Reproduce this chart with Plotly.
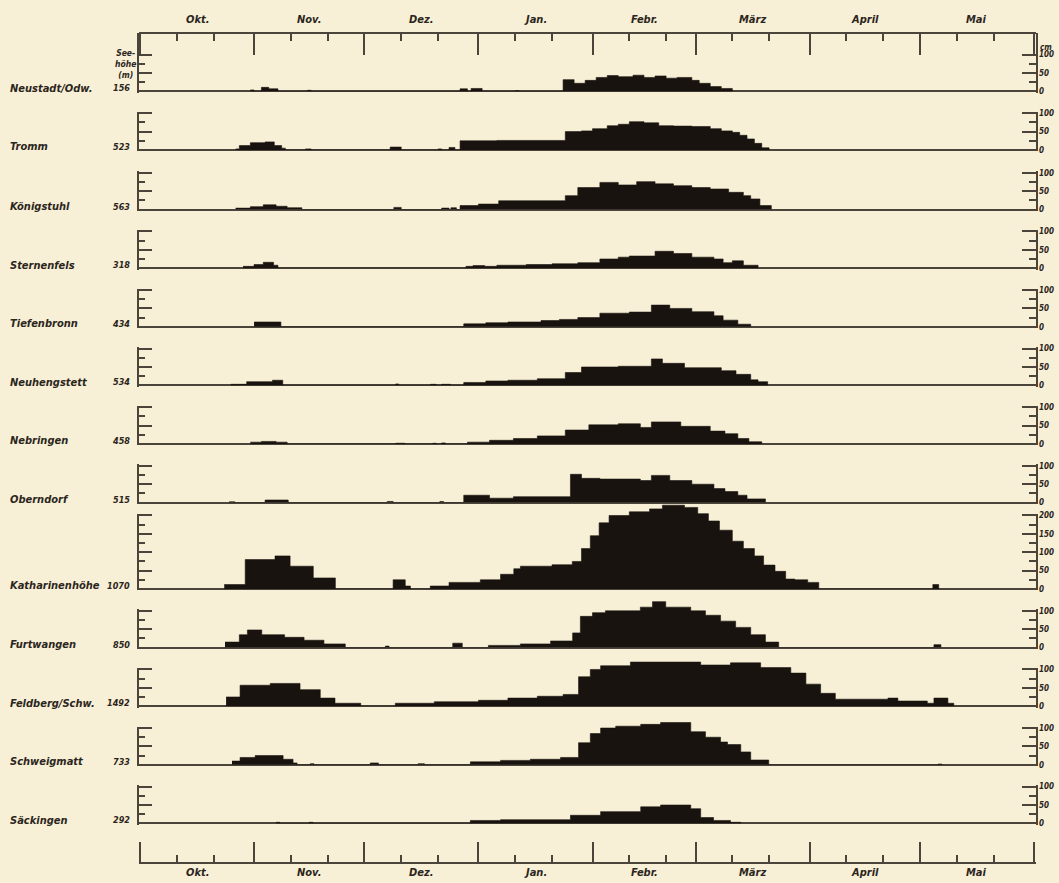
import plotly.graph_objects as go

# ---------------- data ----------------
month_names = ["Okt.", "Nov.", "Dez.", "Jan.", "Febr.", "März", "April", "Mai"]
month_days = [31, 30, 31, 31, 28, 31, 30, 31]

station_names = ["Neustadt/Odw.", "Tromm", "Königstuhl", "Sternenfels", "Tiefenbronn",
                 "Neuhengstett", "Nebringen", "Oberndorf", "Katharinenhöhe", "Furtwangen",
                 "Feldberg/Schw.", "Schweigmatt", "Säckingen"]
station_alt = [156, 523, 563, 318, 434, 534, 458, 515, 1070, 850, 1492, 733, 292]
scale_max_cm = [100, 100, 100, 100, 100, 100, 100, 100, 200, 100, 100, 100, 100]

# snow depth (cm), step values: depth holds from day[i] until day[i+1] (day 0 = 1 Oct)
neustadt_days = [30, 31, 33, 35, 37.5, 45.5, 46.5, 87, 89, 90, 93, 102, 103, 115, 118, 121, 124,
                 127, 130, 134, 137, 140, 143, 146, 150, 152, 155, 158, 161]
neustadt_cm = [4, 0, 11, 7, 0, 3, 0, 7, 0, 8, 0, 2, 0, 32, 22, 30, 38, 43, 40, 44, 38, 42, 36,
               38, 30, 22, 13, 8, 0]

tromm_days = [26, 27, 30, 34, 36.5, 38.5, 39.5, 45, 46.5, 68, 71, 81, 82, 84, 85.6, 87, 97,
              115.6, 120, 123, 127, 130, 133, 137, 141, 145, 150, 155, 158, 161, 163, 165, 167,
              169, 171]
tromm_cm = [3, 12, 20, 22, 12, 5, 0, 3, 0, 8, 0, 3, 0, 7, 0, 25, 26, 50, 52, 58, 66, 70, 77, 74,
            66, 65, 64, 58, 52, 48, 40, 30, 18, 6, 0]

koenigstuhl_days = [26, 30, 33.5, 37, 40, 44, 69, 71, 82, 84, 84.5, 86, 87, 92, 97.5, 115.6,
                    119, 125, 130, 135, 140, 145, 150, 155, 160, 164, 166, 168.5, 171.6]
koenigstuhl_cm = [4, 8, 13, 9, 5, 0, 6, 0, 4, 0, 5, 0, 11, 15, 24, 38, 60, 74, 67, 76, 70, 65,
                  60, 56, 47, 38, 29, 11, 0]

sternenfels_days = [28, 31, 33.5, 36.3, 37.5, 88.6, 90.5, 93.7, 97, 105, 112, 119, 125, 130,
                    133, 140, 145, 150, 156, 158.5, 161, 164, 168]
sternenfels_cm = [5, 10, 16, 8, 0, 5, 7, 5, 8, 10, 12, 15, 25, 30, 33, 46, 40, 30, 25, 15, 20, 8, 0]

tiefenbronn_days = [31, 38.3, 88, 94, 100, 109, 114, 119, 125, 133, 139, 144, 150, 156, 158.5,
                    162.5, 166]
tiefenbronn_cm = [13, 0, 8, 11, 13, 17, 20, 25, 37, 40, 59, 50, 41, 30, 18, 7, 0]

neuhengstett_days = [24.7, 29, 36, 38.8, 69.5, 70.3, 79, 80.5, 82, 84.4, 88, 94, 100, 108,
                     115.6, 120, 130, 139, 142, 148, 158, 162, 166, 168, 170.6]
neuhengstett_cm = [3, 10, 14, 0, 4, 0, 3, 0, 3, 0, 8, 12, 14, 18, 35, 50, 52, 72, 60, 48, 40,
                   30, 15, 10, 0]

nebringen_days = [30, 33, 37, 40, 69.5, 72, 79.6, 80.5, 82, 83, 89, 95, 101.5, 108, 115.6, 122,
                  130, 136, 139, 147, 155, 159, 162.5, 165.5, 169]
nebringen_cm = [5, 7, 5, 0, 2, 0, 2, 0, 3, 0, 5, 10, 15, 22, 38, 52, 55, 45, 60, 48, 35, 28, 15,
                6, 0]

oberndorf_days = [24.2, 25.8, 34, 40.3, 67.2, 68.8, 81.5, 82.5, 88, 95, 101.5, 117, 120, 125,
                  136, 139, 144, 150, 156, 159, 162.5, 165, 170]
oberndorf_cm = [2, 0, 7, 0, 3, 0, 3, 0, 20, 12, 16, 77, 66, 64, 60, 74, 60, 50, 38, 30, 20, 10, 0]

katharinenhoehe_days = [22.9, 28.6, 36.7, 40.8, 47.1, 53.1, 68.8, 72.1, 73.5, 78.9, 84, 92.5,
                        98, 101.6, 103.4, 112, 117.5, 120, 122.4, 124.8, 127.5, 133, 138.5,
                        142, 148, 151.6, 154.5, 157.5, 161, 164, 167, 169.5, 172.6, 175.5,
                        178, 181.5, 184.5, 215.5, 217.1]
katharinenhoehe_cm = [12, 80, 90, 62, 30, 0, 25, 8, 0, 8, 18, 25, 40, 55, 62, 66, 75, 110, 145,
                      180, 200, 210, 218, 228, 222, 205, 185, 160, 130, 110, 90, 65, 48, 27,
                      25, 18, 0, 12, 0]

furtwangen_days = [23.1, 27, 29.2, 33.1, 39.3, 44.6, 50, 55.8, 66.7, 67.7, 85, 87.6, 94.7,
                   103.4, 111.6, 117.6, 119.7, 123, 126.5, 136, 139.3, 142.9, 149.7, 153.7,
                   157.8, 161.9, 166, 170, 173.6, 215.8, 217.7]
furtwangen_cm = [15, 35, 48, 35, 28, 20, 10, 0, 4, 0, 12, 0, 6, 10, 18, 40, 85, 95, 100, 110,
                 125, 110, 100, 88, 72, 55, 35, 15, 0, 8, 0]

feldberg_days = [23.4, 27.2, 35.4, 43.5, 49, 53, 60, 69.4, 80, 92, 100, 108, 115, 119.2, 122.4,
                 125.2, 133.3, 152.4, 160.5, 168.7, 176.9, 181, 185, 189, 203.3, 206, 214,
                 215.8, 219.6, 221.2]
feldberg_cm = [25, 57, 62, 45, 22, 8, 0, 8, 12, 16, 22, 27, 32, 80, 100, 110, 120, 112, 118,
               105, 90, 60, 35, 19, 22, 14, 8, 22, 8, 0]

schweigmatt_days = [25, 27.2, 31.3, 38.9, 41.6, 42.7, 46.3, 47.3, 62.6, 64.8, 75.6, 77.3, 89.8,
                    98, 106.1, 114.3, 119.2, 122.4, 125.2, 129.3, 136.1, 141.5, 149.7, 153.7,
                    157.8, 159.7, 163.3, 166, 170.9, 216.9, 218]
schweigmatt_cm = [10, 20, 25, 15, 5, 0, 3, 0, 5, 0, 3, 0, 8, 12, 15, 20, 60, 85, 100, 105, 110,
                  115, 90, 75, 62, 55, 35, 13, 0, 2, 0]

saeckingen_days = [37, 38, 46, 47, 89.8, 98, 117, 125.2, 136.1, 141.5, 149.7, 152.4, 155.9,
                   160.5, 163.3]
saeckingen_cm = [3, 0, 3, 0, 8, 10, 22, 32, 45, 50, 40, 16, 8, 3, 0]

station_days = [neustadt_days, tromm_days, koenigstuhl_days, sternenfels_days, tiefenbronn_days,
                neuhengstett_days, nebringen_days, oberndorf_days, katharinenhoehe_days,
                furtwangen_days, feldberg_days, schweigmatt_days, saeckingen_days]
station_cm = [neustadt_cm, tromm_cm, koenigstuhl_cm, sternenfels_cm, tiefenbronn_cm,
              neuhengstett_cm, nebringen_cm, oberndorf_cm, katharinenhoehe_cm, furtwangen_cm,
              feldberg_cm, schweigmatt_cm, saeckingen_cm]

# ---------------- layout constants ----------------
W, H = 1059, 883
BG = "#f8f0d6"
INK = "#18130f"
LINE = "#4a443b"
TXT = "#2b2520"
LW = 1.6
X0_PX, X1_PX = 140, 1034
TOP_AXIS_PX, BOTTOM_AXIS_PX = 30, 865
baselines_px = [89, 148, 208, 267, 326, 385, 444, 503, 590, 649, 708, 767, 826]
PX_PER_CM = 0.37
PAD_PX = 1.5   # keeps end ticks from being clipped at the axis ends
FONT = "Liberation Sans Narrow, DejaVu Sans Condensed, Roboto Condensed, Arial Narrow, sans-serif"

def py(px):
    return 1 - px / H

bounds = [0]
for d in month_days:
    bounds.append(bounds[-1] + d)
total_days = bounds[-1]
minor_vals = []
for b in bounds[:-1]:
    minor_vals += [b + 10, b + 20]
centers = [(bounds[i] + bounds[i + 1]) / 2 for i in range(len(month_days))]

px_per_day = (X1_PX - X0_PX) / total_days
pad_days = PAD_PX / px_per_day
x_domain = [(X0_PX - PAD_PX) / W, (X1_PX + PAD_PX) / W]
x_range = [-pad_days, total_days + pad_days]

fig = go.Figure()
layout = dict(
    width=W, height=H, autosize=False,
    margin=dict(l=0, r=0, t=0, b=0),
    paper_bgcolor=BG, plot_bgcolor="rgba(0,0,0,0)",
    showlegend=False,
    font=dict(family=FONT, color=TXT, size=11, style="italic", weight="bold"),
)

tick_common = dict(tickcolor=LINE, tickwidth=LW, showgrid=False, zeroline=False,
                   showticklabels=False)
x_minor = dict(tickvals=minor_vals, ticks="inside", ticklen=7, tickcolor=LINE, tickwidth=LW)
layout["xaxis"] = dict(domain=x_domain, range=x_range, anchor="free",
                       position=py(TOP_AXIS_PX), side="top", showline=True, linecolor=LINE,
                       linewidth=LW, ticks="inside", ticklen=21, tickvals=bounds,
                       minor=x_minor, fixedrange=True, **tick_common)

n_st = len(station_names)
bottom_y_id = 2 * n_st + 1
layout["xaxis2"] = dict(domain=x_domain, range=x_range,
                        anchor=f"y{bottom_y_id}", side="bottom",
                        showline=True, linecolor=LINE, linewidth=LW, ticks="inside",
                        ticklen=20, tickvals=bounds, minor=x_minor,
                        fixedrange=True, **tick_common)
layout[f"yaxis{bottom_y_id}"] = dict(domain=[py(BOTTOM_AXIS_PX), py(BOTTOM_AXIS_PX - 20)],
                                     range=[0, 1], anchor="x2", showline=False,
                                     showticklabels=False, ticks="", showgrid=False,
                                     zeroline=False, fixedrange=True)
# carrier trace (draws nothing) so that the bottom month axis gets its own subplot
fig.add_trace(go.Scatter(x=bounds, y=[0] * len(bounds), xaxis="x2", yaxis=f"y{bottom_y_id}",
                         mode="none", hoverinfo="skip", showlegend=False))

annotations = []
for i in range(n_st):
    base = baselines_px[i]
    sm = scale_max_cm[i]
    if i == 0:
        top_px = TOP_AXIS_PX
    else:
        top_px = base - (95 if sm > 100 else 56)
    d_id = 2 * i + 1
    s_id = 2 * i + 2
    dname = "yaxis" if d_id == 1 else f"yaxis{d_id}"
    dref = "y" if d_id == 1 else f"y{d_id}"
    layout[dname] = dict(domain=[py(base), py(top_px)], range=[0, (base - top_px) / PX_PER_CM],
                         anchor="x", showgrid=False, showticklabels=False, ticks="",
                         zeroline=True, zerolinecolor=LINE, zerolinewidth=LW,
                         showline=(i == 0), mirror=True, linecolor=LINE, linewidth=LW,
                         fixedrange=True)
    major = list(range(0, sm + 1, 50))
    minor = list(range(25, sm, 50))
    pad_cm = PAD_PX / PX_PER_CM
    layout[f"yaxis{s_id}"] = dict(
        domain=[py(base + PAD_PX), py(base - sm * PX_PER_CM - PAD_PX)],
        range=[-pad_cm, sm + pad_cm], anchor="x", side="right",
        showline=True, mirror="ticks", linecolor=LINE, linewidth=LW, ticks="inside",
        ticklen=14, tickwidth=LW, tickcolor=LINE, tickvals=major,
        ticktext=[str(v) for v in major], showticklabels=True,
        tickfont=dict(size=8, family=FONT, color=TXT, style="italic", weight="bold"),
        minor=dict(tickvals=minor, ticks="inside", ticklen=7, tickcolor=LINE, tickwidth=LW),
        showgrid=False, zeroline=False, fixedrange=True)

    fig.add_trace(go.Scatter(x=station_days[i], y=station_cm[i], xaxis="x", yaxis=dref,
                             mode="lines", line=dict(shape="hv", width=0.6, color=INK),
                             fill="tozeroy", fillcolor=INK, hoverinfo="skip"))

    sref = f"y{s_id}"
    annotations.append(dict(text=station_names[i], xref="paper", yref=sref, x=8 / W, y=0,
                            xanchor="left", yanchor="middle", yshift=3, showarrow=False,
                            font=dict(size=11)))
    annotations.append(dict(text=str(station_alt[i]), xref="paper", yref=sref, x=132 / W, y=0,
                            xanchor="right", yanchor="middle", yshift=3, showarrow=False,
                            font=dict(size=9)))

# header labels for the first panel
annotations.append(dict(text="See-<br>höhe<br>(m)", xref="paper", yref="paper", x=125 / W,
                        y=py(61), xanchor="center", yanchor="middle", showarrow=False,
                        align="center", font=dict(size=8.5)))
annotations.append(dict(text="cm", xref="paper", yref="paper", x=1038 / W, y=py(45),
                        xanchor="left", yanchor="middle", showarrow=False, font=dict(size=8)))

for name, c in zip(month_names, centers):
    annotations.append(dict(text=name, xref="x", yref="paper", x=c, y=py(17), xanchor="center",
                            yanchor="middle", showarrow=False, font=dict(size=11)))
    annotations.append(dict(text=name, xref="x", yref="paper", x=c, y=py(875), xanchor="center",
                            yanchor="middle", showarrow=False, font=dict(size=11)))

layout["annotations"] = annotations
fig.update_layout(**layout)
fig.write_html("out.html",
               config={"displayModeBar": False, "responsive": False},
               post_script="var gd=document.getElementById('{plot_id}');"
                           "gd.style.position='fixed';gd.style.left='0px';gd.style.top='0px';"
                           "document.documentElement.style.overflow='hidden';"
                           "document.documentElement.style.background='" + BG + "';"
                           "document.body.style.margin='0px';"
                           "document.body.style.overflow='hidden';"
                           "document.body.style.height='" + str(H) + "px';"
                           "document.body.style.background='" + BG + "';")
